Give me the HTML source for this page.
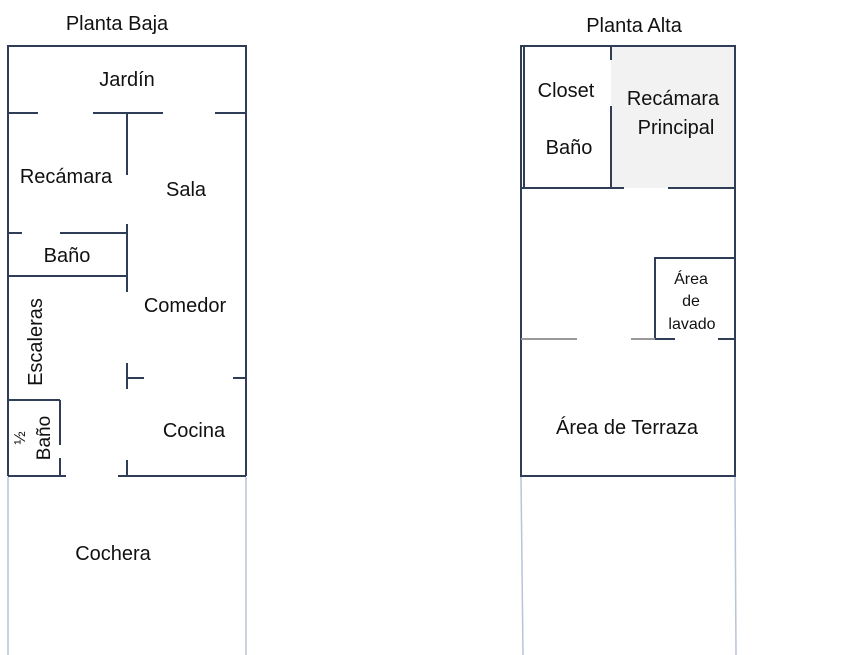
<!DOCTYPE html>
<html><head><meta charset="utf-8"><style>
html,body{margin:0;padding:0;background:#fff;}
svg{display:block;}
text{font-family:"Liberation Sans",sans-serif;font-size:20px;fill:#111;}
</style></head><body>
<svg width="856" height="655" viewBox="0 0 856 655" xmlns="http://www.w3.org/2000/svg">
<g stroke="#2f3d56" stroke-width="2" fill="none">
<polyline points="8,476 8,46 246,46 246,476"/>
<line x1="8" y1="113" x2="38" y2="113"/>
<line x1="93" y1="113" x2="163" y2="113"/>
<line x1="215" y1="113" x2="246" y2="113"/>
<line x1="127" y1="113" x2="127" y2="175"/>
<line x1="127" y1="224" x2="127" y2="292"/>
<line x1="8" y1="233" x2="22" y2="233"/>
<line x1="60" y1="233" x2="127" y2="233"/>
<line x1="8" y1="276" x2="127" y2="276"/>
<line x1="127" y1="363" x2="127" y2="389"/>
<line x1="127" y1="378" x2="144" y2="378"/>
<line x1="233" y1="378" x2="246" y2="378"/>
<line x1="127" y1="460" x2="127" y2="476"/>
<line x1="118" y1="476" x2="246" y2="476"/>
<line x1="8" y1="400" x2="60" y2="400"/>
<line x1="60" y1="400" x2="60" y2="445"/>
<line x1="60" y1="458" x2="60" y2="476"/>
<line x1="8" y1="476" x2="66" y2="476"/>
<rect x="521" y="46" width="214" height="430"/>
<rect x="611" y="47" width="123" height="141" fill="#f2f2f2" stroke="none"/>
<line x1="524" y1="46" x2="524" y2="188"/>
<line x1="611" y1="46" x2="611" y2="60"/>
<line x1="611" y1="106" x2="611" y2="188"/>
<line x1="521" y1="188" x2="624" y2="188"/>
<line x1="668" y1="188" x2="735" y2="188"/>
<polyline points="655,339 655,258 735,258"/>
<line x1="655" y1="339" x2="675" y2="339"/>
<line x1="718" y1="339" x2="735" y2="339"/>
</g>
<g stroke="#999" stroke-width="2">
<line x1="521" y1="339" x2="577" y2="339"/>
<line x1="631" y1="339" x2="655" y2="339"/>
</g>
<g stroke="#b8c4d8" stroke-width="1.5">
<line x1="8" y1="477" x2="8" y2="655"/>
<line x1="246" y1="477" x2="246" y2="655"/>
<line x1="521" y1="477" x2="523" y2="655"/>
<line x1="735" y1="477" x2="736" y2="655"/>
</g>
<text x="117" y="30" text-anchor="middle">Planta Baja</text>
<text x="634" y="32" text-anchor="middle">Planta Alta</text>
<text x="127" y="86" text-anchor="middle">Jardín</text>
<text x="66" y="183" text-anchor="middle">Recámara</text>
<text x="186" y="196" text-anchor="middle">Sala</text>
<text x="67" y="262" text-anchor="middle">Baño</text>
<text x="185" y="312" text-anchor="middle">Comedor</text>
<text x="194" y="437" text-anchor="middle">Cocina</text>
<text x="113" y="560" text-anchor="middle">Cochera</text>
<text transform="translate(42,342) rotate(-90)" text-anchor="middle">Escaleras</text>
<text transform="translate(25,438) rotate(-90)" text-anchor="middle" style="font-size:16px">½</text>
<text transform="translate(50,438) rotate(-90)" text-anchor="middle" style="font-size:19px">Baño</text>
<text x="566" y="97" text-anchor="middle">Closet</text>
<text x="569" y="154" text-anchor="middle">Baño</text>
<text x="673" y="105" text-anchor="middle">Recámara</text>
<text x="676" y="134" text-anchor="middle">Principal</text>
<text x="691" y="284" text-anchor="middle" style="font-size:16px">Área</text>
<text x="691" y="306" text-anchor="middle" style="font-size:16px">de</text>
<text x="692" y="329" text-anchor="middle" style="font-size:16px">lavado</text>
<text x="627" y="434" text-anchor="middle">Área de Terraza</text>
</svg>
</body></html>
